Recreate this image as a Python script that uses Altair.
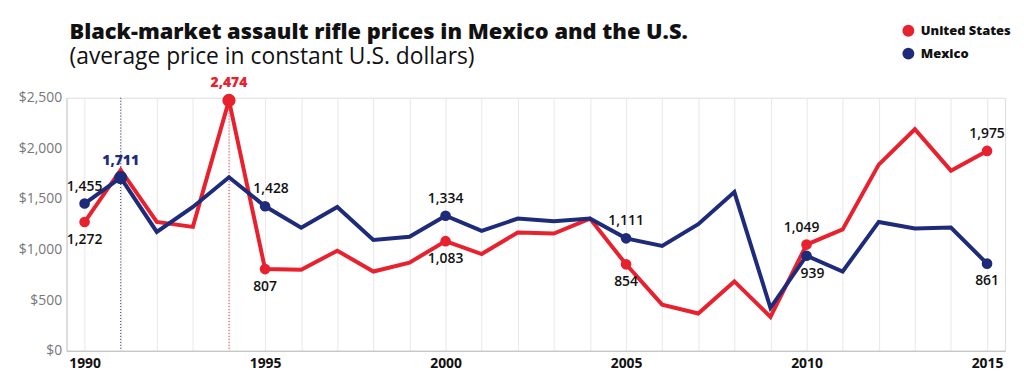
import altair as alt
import pandas as pd

years = list(range(1990, 2016))
us_prices = [1272, 1787, 1273, 1224, 2474, 807, 800, 989, 783, 871, 1083, 956, 1169, 1159, 1306,
             854, 456, 368, 685, 335, 1049, 1199, 1839, 2189, 1780, 1975]
mx_prices = [1455, 1711, 1175, 1421, 1715, 1428, 1215, 1421, 1094, 1126, 1334, 1185, 1306, 1280, 1306,
             1111, 1035, 1251, 1568, 424, 939, 783, 1273, 1208, 1218, 861]
series_names = ["United States", "Mexico"]
colors = ["#E8212F", "#1E2B7A"]
us_point_years = [1990, 1994, 1995, 2000, 2005, 2010, 2015]
mx_point_years = [1990, 1991, 1995, 2000, 2005, 2010, 2015]
us_labels_above = [1994, 2010, 2015]
mx_labels_below = [2010, 2015]
highlight = {"United States": 1994, "Mexico": 1991}
label_shift = {("Mexico", 1995): 6, ("Mexico", 2010): 6, ("United States", 2010): -5}

rows = []
for i, y in enumerate(years):
    for s, vals, pyears in (("United States", us_prices, us_point_years),
                            ("Mexico", mx_prices, mx_point_years)):
        above = (y in us_labels_above) if s == "United States" else (y not in mx_labels_below)
        rows.append({"year": y, "series": s, "price": vals[i], "point": y in pyears,
                     "above": above, "hl": highlight[s] == y,
                     "shift": label_shift.get((s, y), 0)})
df = pd.DataFrame(rows)
hl_df = pd.DataFrame({"year": [highlight[s] for s in series_names], "series": series_names})

W, H = 946, 255
cscale = alt.Scale(domain=series_names, range=colors)
color = alt.Color("series:N", scale=cscale,
                  legend=alt.Legend(title=None, orient="none", legendX=842, legendY=-74,
                                    symbolType="circle", symbolSize=144, symbolStrokeWidth=0,
                                    symbolOpacity=1,
                                    labelFont="Open Sans", labelFontWeight=800, labelFontSize=13,
                                    labelColor="#111", rowPadding=9, labelOffset=6))
x = alt.X("year:Q", scale=alt.Scale(domain=[1989.5, 2015.5], nice=False, zero=False),
          axis=alt.Axis(title=None, values=years, format="d",
                        labelExpr="datum.value % 5 == 0 ? datum.label : ''",
                        labelOverlap=False, labelBound=False,
                        grid=True, gridColor="#e8e8e8", gridWidth=1, ticks=False,
                        domainColor="#bbbbbb", labelFont="Open Sans", labelFontWeight="bold",
                        labelFontSize=14, labelColor="#111", labelPadding=6))
y = alt.Y("price:Q", scale=alt.Scale(domain=[0, 2500], nice=False),
          axis=alt.Axis(title=None, values=[0, 500, 1000, 1500, 2000, 2500], format="$,.0f",
                        grid=False, ticks=False, domainColor="#cccccc", labelFont="Open Sans",
                        labelFontSize=14, labelColor="#777", labelPadding=5))

base = alt.Chart(df)
rules = alt.Chart(hl_df).mark_rule(strokeDash=[1, 2], strokeWidth=1).encode(
    x=x, y=alt.value(0), y2=alt.value(H), color=color)
lines = base.mark_line(strokeWidth=4).encode(x=x, y=y, color=color)
pts = base.transform_filter("datum.point").mark_circle(opacity=1).encode(
    x=x, y=y, color=color,
    size=alt.condition("datum.hl", alt.value(177), alt.value(115)))

layers = [rules, lines, pts]
for above in (True, False):
    for sh in sorted(set(df["shift"])):
        for hl in (False, True):
            sub = df[(df.point) & (df.above == above) & (df["shift"] == sh) & (df.hl == hl)]
            if len(sub) == 0:
                continue
            flt = (f"datum.point && {'datum.above' if above else '!datum.above'} && "
                   f"datum.shift == {sh} && {'datum.hl' if hl else '!datum.hl'}")
            mk = dict(dy=-17 if above else 18, dx=sh, font="Open Sans",
                      fontWeight=800 if hl else 600, fontSize=14)
            enc = dict(x=x, y=y, text=alt.Text("price:Q", format=","))
            if hl:
                enc["color"] = color
            else:
                mk["color"] = "#111"
            layers.append(base.transform_filter(flt).mark_text(**mk).encode(**enc))

chart = alt.layer(*layers).properties(
    width=W, height=H,
    title=alt.TitleParams(text="Black-market assault rifle prices in Mexico and the U.S.",
                          subtitle="(average price in constant U.S. dollars)",
                          anchor="start", frame="group", dx=3, offset=-46, font="Open Sans",
                          fontWeight=800, fontSize=22, color="#111", subtitleFont="Open Sans",
                          subtitleFontSize=23, subtitleColor="#111", subtitlePadding=2,
                          lineHeight=24, subtitleLineHeight=24),
    autosize=alt.AutoSizeParams(type="none"),
    padding={"left": 59, "top": 89, "right": 11, "bottom": 28},
).configure_view(stroke=None).configure_axisX(labelOverlap=False).configure(background="white")

chart.save("out.html", embed_options={"renderer": "svg", "actions": False})
